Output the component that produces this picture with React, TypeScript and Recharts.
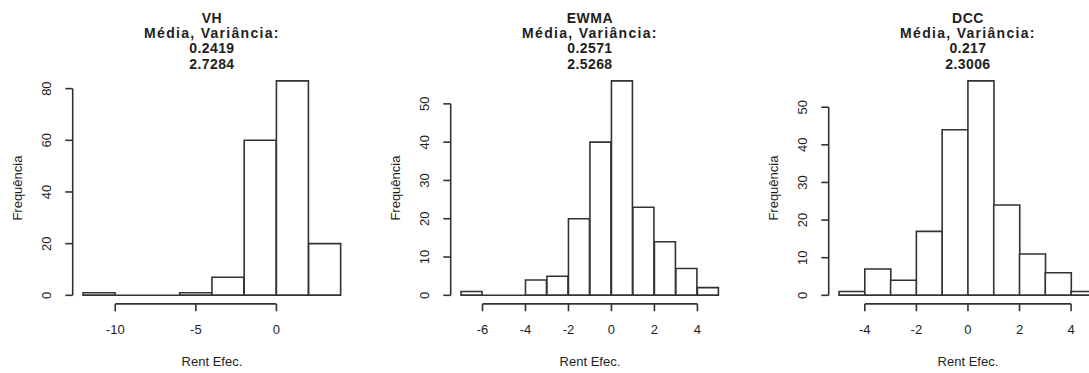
import React from "react";
import { BarChart, Bar, XAxis, YAxis, ReferenceLine } from "recharts";

// histogram breaks and counts
const vhBreaks = [-12, -10, -8, -6, -4, -2, 0, 2, 4];
const vhCounts = [1, 0, 0, 1, 7, 60, 83, 20];
const vhXTicks = [-10, -5, 0];
const vhYTicks = [0, 20, 40, 60, 80];
const vhStats = ["0.2419", "2.7284"];

const ewmaBreaks = [-7, -6, -5, -4, -3, -2, -1, 0, 1, 2, 3, 4, 5];
const ewmaCounts = [1, 0, 0, 4, 5, 20, 40, 56, 23, 14, 7, 2];
const ewmaXTicks = [-6, -4, -2, 0, 2, 4];
const ewmaYTicks = [0, 10, 20, 30, 40, 50];
const ewmaStats = ["0.2571", "2.5268"];

const dccBreaks = [-5, -4, -3, -2, -1, 0, 1, 2, 3, 4, 5];
const dccCounts = [1, 7, 4, 17, 44, 57, 24, 11, 6, 1];
const dccXTicks = [-4, -2, 0, 2, 4];
const dccYTicks = [0, 10, 20, 30, 40, 50];
const dccStats = ["0.217", "2.3006"];

const INK = "#333";
const TEXT = "#1e1e1e";
const FONT = "'Liberation Sans', Arial, sans-serif";

const PANEL_W = 378;
const PLOT_LEFT = 72.7;
const PLOT_W = 278.5;
const PLOT_TOP = 72.3;
const PLOT_H = 231.6;
const H = 373;

interface HistProps {
  title: string;
  stats: string[];
  breaks: number[];
  counts: number[];
  xTicks: number[];
  yTicks: number[];
}

function Histogram({ title, stats, breaks, counts, xTicks, yTicks }: HistProps) {
  const data = counts.map((c, i) => ({
    mid: (breaks[i] + breaks[i + 1]) / 2,
    count: c,
  }));
  const lo = breaks[0];
  const hi = breaks[breaks.length - 1];
  // R's default 4% axis extension
  const xPad = (hi - lo) * 0.04;
  const maxC = Math.max(...counts);
  const yPad = maxC * 0.04;
  const xDom: [number, number] = [lo - xPad, hi + xPad];
  const yDom: [number, number] = [-yPad, maxC + yPad];
  const cx = PLOT_LEFT + PLOT_W / 2;
  const cy = PLOT_TOP + PLOT_H / 2;

  return (
    <BarChart
      width={PANEL_W}
      height={H}
      data={data}
      barCategoryGap={0}
      barGap={0}
      margin={{ top: PLOT_TOP, right: PANEL_W - PLOT_LEFT - PLOT_W, bottom: 0, left: 0 }}
    >
      <XAxis
        type="number"
        dataKey="mid"
        domain={xDom}
        allowDataOverflow
        ticks={xTicks}
        interval={0}
        height={H - PLOT_TOP - PLOT_H}
        axisLine={false}
        tickSize={7.4}
        tickMargin={0}
        tickLine={{ stroke: INK, strokeWidth: 1.6 }}
        tick={(p: any) => (
          <text x={p.x} y={p.y + 23} textAnchor="middle" fontSize={13} fontFamily={FONT} fill={TEXT}>
            {p.payload.value}
          </text>
        )}
      />
      <YAxis
        type="number"
        domain={yDom}
        allowDataOverflow
        ticks={yTicks}
        interval={0}
        width={PLOT_LEFT}
        axisLine={false}
        tickSize={7.4}
        tickMargin={0}
        tickLine={{ stroke: INK, strokeWidth: 1.6 }}
        tick={(p: any) => (
          <text
            transform={`translate(${p.x - 14.6},${p.y}) rotate(-90)`}
            textAnchor="middle"
            fontSize={13}
            fontFamily={FONT}
            fill={TEXT}
          >
            {p.payload.value}
          </text>
        )}
      />
      <ReferenceLine
        segment={[{ x: xTicks[0], y: yDom[0] }, { x: xTicks[xTicks.length - 1], y: yDom[0] }]}
        stroke={INK}
        strokeWidth={1.6}
      />
      <ReferenceLine
        segment={[{ x: xDom[0], y: yTicks[0] }, { x: xDom[0], y: yTicks[yTicks.length - 1] }]}
        stroke={INK}
        strokeWidth={1.6}
      />
      <ReferenceLine
        segment={[{ x: lo, y: 0 }, { x: hi, y: 0 }]}
        stroke={INK}
        strokeWidth={1.6}
      />
      <Bar dataKey="count" fill="#fff" stroke={INK} strokeWidth={1.6} isAnimationActive={false} />
      <text textAnchor="middle" fontSize={14} fontWeight="bold" fontFamily={FONT} fill={TEXT}>
        <tspan x={cx} y={22.5} letterSpacing={0.5}>{title}</tspan>
        <tspan x={cx} y={38} letterSpacing={1.3}>Média, Variância:</tspan>
        <tspan x={cx} y={53.4} letterSpacing={0.4}>{stats[0]}</tspan>
        <tspan x={cx} y={68.6} letterSpacing={0.4}>{stats[1]}</tspan>
      </text>
      <text x={cx} y={365.5} textAnchor="middle" fontSize={13} fontFamily={FONT} fill={TEXT}>
        Rent Efec.
      </text>
      <text
        transform={`translate(22.3,${cy}) rotate(-90)`}
        textAnchor="middle"
        fontSize={13}
        fontFamily={FONT}
        fill={TEXT}
      >
        Frequência
      </text>
    </BarChart>
  );
}

export default function App() {
  const panels = [
    { title: "VH", stats: vhStats, breaks: vhBreaks, counts: vhCounts, xTicks: vhXTicks, yTicks: vhYTicks },
    { title: "EWMA", stats: ewmaStats, breaks: ewmaBreaks, counts: ewmaCounts, xTicks: ewmaXTicks, yTicks: ewmaYTicks },
    { title: "DCC", stats: dccStats, breaks: dccBreaks, counts: dccCounts, xTicks: dccXTicks, yTicks: dccYTicks },
  ];
  return (
    <div
      style={{
        position: "absolute",
        left: 0,
        top: 0,
        width: 1089,
        height: H,
        overflow: "hidden",
        background: "#fff",
      }}
    >
      {panels.map((p, i) => (
        <div key={p.title} style={{ position: "absolute", left: i * PANEL_W, top: 0 }}>
          <Histogram {...p} />
        </div>
      ))}
    </div>
  );
}
